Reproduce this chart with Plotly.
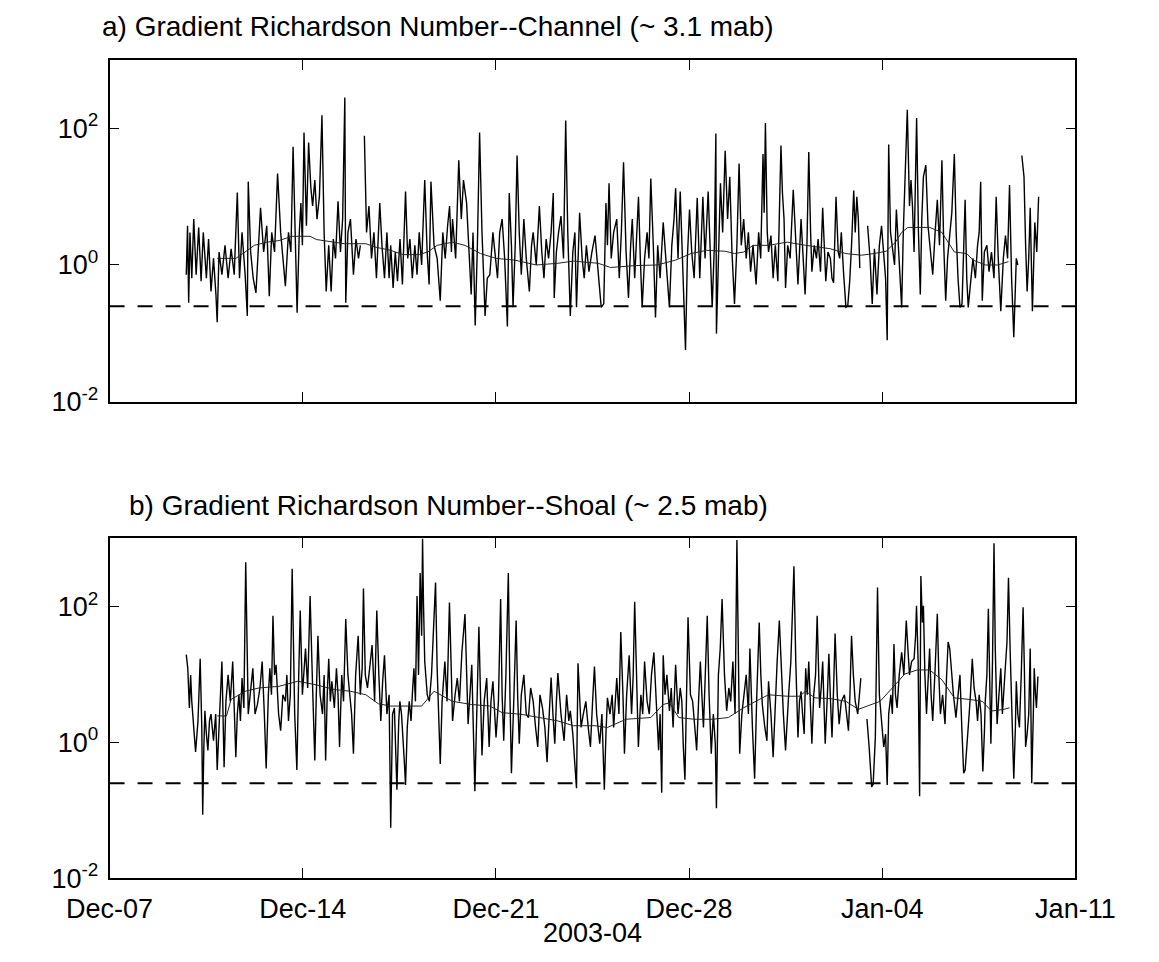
import pandas as pd
import plotly.graph_objects as go

# Gradient Richardson number, Dec 2003 - Jan 2004.
# Samples are (hours since 2003-12-07 00:00, Ri); None marks a data gap.
START = pd.Timestamp("2003-12-07")
END = pd.Timestamp("2004-01-11")

channel_ri = [
    (66.7, 0.72), (67.8, 3.75), (68.8, 0.28), (69.9, 3.0), (71.5, 0.64), (73.2, 4.7), (75.3, 0.72),
    (77.5, 3.55), (79.6, 0.58), (81.5, 3.0), (84.2, 0.64), (86.1, 2.4), (88.2, 0.41), (90.4, 1.25),
    (92.5, 0.37), (93.6, 0.145), (95.2, 1.55), (97.7, 0.72), (100.4, 1.94), (103.1, 0.64), (105.7, 1.73),
    (108.4, 0.72), (111.1, 11.5), (113.0, 0.64), (115.2, 3.0), (117.9, 0.72), (119.8, 0.18), (120.6, 16.6),
    (122.7, 1.55), (124.9, 0.64), (127.3, 0.39), (129.2, 1.94), (131.3, 6.9), (134.0, 1.55), (136.7, 3.75),
    (138.9, 0.35), (141.0, 3.0), (143.5, 1.55), (146.1, 21.9), (148.8, 3.0), (150.7, 1.25), (152.9, 0.49),
    (155.6, 3.0), (157.7, 1.55), (159.6, 54), (161.5, 3.0), (163.1, 0.20), (165.0, 3.0), (166.4, 8.1),
    (167.7, 1.94), (169.1, 87), (171.2, 3.75), (173.1, 62), (175.0, 14), (176.6, 7.3), (178.5, 17.5),
    (180.4, 4.7), (182.5, 10), (184.7, 155), (186.6, 3.0), (188.4, 0.41), (190.6, 1.94), (192.7, 0.41),
    (194.6, 2.4), (196.5, 1.25), (198.7, 8.6), (200.8, 1.55), (202.7, 4.7), (204.6, 282), (205.4, 0.28),
    (207.3, 3.0), (209.5, 4.7), (212.1, 0.72), (214.3, 2.4), (216.5, 1.25), (218.1, 1.94), (219.8, None),
    (221.6, 78), (223.5, 3.0), (225.6, 7.3), (227.8, 1.25), (229.9, 3.0), (232.1, 0.64), (235.0, 8.1),
    (236.9, 1.94), (239.1, 0.64), (241.2, 3.0), (243.1, 0.64), (244.5, 1.94), (246.6, 0.46), (248.5, 1.55),
    (250.4, 0.58), (252.6, 2.4), (254.7, 0.52), (257.4, 11.9), (259.3, 1.25), (261.2, 2.4), (263.3, 0.64),
    (265.5, 1.94), (267.4, 0.72), (269.3, 3.0), (271.4, 1.0), (274.1, 17.5), (276.2, 1.55), (277.9, 0.52),
    (279.5, 16.6), (282.2, 1.94), (284.9, 1.25), (287.6, 0.30), (289.8, 3.0), (291.9, 1.25), (294.0, 3.75),
    (295.7, 7.3), (297.3, 1.55),
    (298.3, 4.7), (301.0, 1.25), (303.7, 34), (305.9, 4.7), (307.8, 17.5), (310.5, 8.1), (312.3, 1.94),
    (314.5, 0.37), (316.1, 3.0), (318.0, 0.13), (319.9, 1.94), (321.8, 87), (323.9, 3.0), (326.6, 0.18),
    (328.5, 0.64), (330.7, 0.72), (333.4, 3.0), (335.5, 1.25), (337.4, 0.64), (339.3, 3.0), (341.4, 4.7),
    (343.6, 1.25), (346.0, 0.126), (347.6, 11.3), (349.5, 1.94), (350.9, 0.24), (352.8, 1.94), (354.4, 40),
    (356.3, 3.0), (358.1, 0.72), (360.3, 4.7), (362.4, 1.25), (365.1, 0.41), (367.0, 1.94), (368.4, 3.0),
    (371.1, 1.0), (373.8, 7.3), (375.9, 1.55), (377.8, 0.64), (379.7, 2.4), (381.8, 1.25), (384.0, 3.0),
    (385.9, 11.3), (386.7, 0.33), (388.6, 1.55), (390.5, 3.0), (392.6, 5.2), (394.8, 1.25), (396.7, 130),
    (398.5, 3.0), (400.7, 0.18), (402.9, 1.55), (404.7, 3.0), (406.1, 0.24), (408.8, 5.8), (411.0, 1.25),
    (412.8, 0.64), (414.7, 1.94), (416.9, 0.8), (419.5, 1.55), (422.2, 2.7), (424.9, 0.8), (427.6, 0.24),
    (429.8, 0.27), (431.7, 8.1), (433.0, 1.94), (434.4, 15.7), (436.3, 1.25), (438.4, 3.0), (441.1, 4.7),
    (443.3, 0.64), (445.1, 3.0), (447.0, 32), (449.2, 1.55), (451.3, 0.33), (453.2, 1.94), (454.6, 4.7),
    (456.7, 0.64), (458.6, 3.0), (460.0, 10), (461.6, 1.25), (463.2, 0.24), (465.3, 1.25), (467.5, 3.0),
    (469.1, 1.25), (470.7, 18.5), (472.9, 1.94), (474.8, 0.17), (476.7, 1.94), (478.8, 0.64), (481.5, 4.2),
    (483.7, 1.25), (485.5, 0.64), (486.9, 0.24), (489.0, 1.94), (490.9, 4.7), (492.3, 13.3), (494.4, 1.25),
    (496.3, 11.9), (498.2, 1.25), (499.3, 0.64), (500.9, 0.057), (502.5, 1.25), (504.4, 6.5), (506.3, 1.55),
    (508.4, 0.64), (511.1, 9.6), (513.3, 0.64), (516.0, 10), (517.9, 1.25), (520.6, 11.9), (522.5, 1.55),
    (524.1, 0.24), (526.0, 1.94), (527.3, 84), (527.8, 0.099), (529.5, 1.55), (531.3, 15.7), (533.2, 3.0),
    (535.4, 47), (537.5, 4.7), (539.4, 19.5), (541.3, 1.55), (543.5, 0.27), (545.6, 1.94), (547.5, 30.6),
    (549.4, 1.94), (551.5, 4.7), (553.7, 1.25), (555.6, 3.0), (557.5, 0.8), (559.6, 1.94), (562.3, 0.52),
    (564.5, 3.0), (566.3, 1.25), (568.3, 42), (569.3, 5.8), (570.4, 120), (572.0, 3.0),
    (573.1, 1.55), (575.2, 2.7), (577.1, 0.64), (579.0, 1.94), (581.2, 0.58), (583.9, 56), (585.2, 11.3),
    (586.6, 4.7), (587.9, 0.46), (589.8, 1.94), (591.9, 1.25), (594.6, 12.6), (596.8, 1.94), (598.7, 0.52),
    (601.4, 4.7), (603.3, 1.25), (604.9, 0.37), (606.5, 1.94), (608.1, 45), (609.7, 3.0), (610.8, 0.8),
    (612.9, 1.94), (614.8, 1.25), (616.2, 2.4), (618.3, 0.8), (620.2, 6.9), (621.6, 1.55), (622.9, 0.58),
    (624.8, 1.55), (626.9, 1.25), (628.3, 0.64), (629.7, 0.55), (631.8, 10), (633.7, 1.55), (635.0, 1.25),
    (636.4, 3.0), (638.3, 0.8), (640.4, 0.24), (642.0, 0.25), (643.7, 0.58), (645.3, 1.94), (647.2, 12.3),
    (648.5, 3.0), (649.9, 10), (651.2, 4.7), (652.5, 0.9), (656.0, None), (659.3, 3.75), (661.4, 1.25),
    (663.3, 0.27), (665.2, 1.73), (667.4, 0.37), (669.5, 1.94), (671.4, 3.75), (673.3, 1.25), (674.9, 0.64),
    (676.3, 0.079), (677.6, 58), (679.2, 3.0), (680.8, 1.94), (682.7, 1.0), (684.3, 6.5), (686.2, 1.94),
    (687.6, 0.64), (688.9, 0.24), (690.3, 3.0), (691.6, 12.6), (693.8, 187), (695.7, 7.3), (697.0, 17.5),
    (698.3, 7.3), (699.7, 1.55), (701.9, 142), (703.5, 3.0), (705.1, 0.37), (706.4, 4.7), (707.8, 19.5),
    (709.9, 29), (711.8, 3.75), (713.7, 1.94), (715.9, 0.72), (718.0, 3.0), (719.9, 9.0), (721.8, 1.94),
    (723.9, 34), (725.5, 1.94), (727.2, 0.30), (728.8, 1.25), (730.7, 3.0), (732.5, 5.8), (734.7, 42),
    (736.3, 3.0), (737.9, 0.64), (739.6, 0.24), (741.4, 0.27), (742.8, 1.94), (744.1, 9.0), (745.5, 0.64),
    (746.8, 0.24), (748.7, 0.52), (750.9, 1.25), (753.0, 0.64), (754.9, 1.94), (756.3, 3.0), (757.6, 16.6),
    (759.0, 0.30), (760.8, 1.55), (763.0, 1.94), (764.9, 0.8), (767.0, 1.55), (769.2, 0.64), (771.1, 10),
    (772.9, 1.25), (775.1, 0.21), (777.3, 1.25), (779.2, 2.7), (781.0, 1.25), (782.7, 14.8), (784.5, 0.64),
    (786.4, 0.088), (788.6, 1.25), (789.9, 1.0), (791.5, None), (793.4, 40), (795.3, 19.5), (796.7, 1.94),
    (798.0, 0.41), (799.4, 1.25), (800.7, 6.9), (802.6, 0.21), (803.7, 1.25), (804.7, 4.2), (806.4, 1.55),
    (808.0, 10),
]

channel_mean = [
    (93.6, 1.25), (109.8, 1.25), (117.9, 1.55), (125.9, 1.94), (136.7, 2.16), (147.5, 2.28), (158.3, 2.63),
    (174.4, 2.63), (179.8, 2.36), (190.6, 2.21), (204.1, 2.05), (222.9, 2.05), (231.0, 1.83), (244.5, 1.64),
    (255.2, 1.42), (268.7, 1.42), (276.8, 1.55), (284.9, 1.94), (298.3, 2.16), (309.1, 1.94), (322.6, 1.47),
    (336.1, 1.25), (352.2, 1.18), (371.1, 1.0), (389.9, 1.06), (403.4, 1.14), (424.9, 1.06), (435.7, 0.92),
    (457.3, 0.98), (476.1, 1.0), (492.3, 1.18), (505.7, 1.47), (519.2, 1.64), (535.4, 1.59), (543.5, 1.47),
    (551.5, 1.55), (559.6, 1.94), (573.1, 1.94), (589.3, 2.16), (605.4, 1.94), (626.9, 1.73), (640.4, 1.47),
    (653.9, 1.39), (664.7, 1.47), (675.4, 1.59), (683.5, 2.16), (688.9, 3.0), (694.3, 3.55), (713.2, 3.55),
    (723.9, 3.0), (729.3, 2.16), (734.7, 1.55), (745.5, 1.47), (750.9, 1.18), (761.6, 1.0), (772.4, 1.0),
    (781.8, 1.12),
]

shoal_ri = [
    (66.7, 19.5), (68.0, 12.3), (69.4, 3.2), (70.5, 9.8), (71.5, 4.0), (73.2, 1.65), (74.8, 0.72), (76.9, 2.06),
    (78.8, 17), (80.2, 1.65), (81.0, 0.086), (82.0, 0.85), (82.9, 2.9), (84.2, 1.32), (85.5, 0.76), (86.9, 2.06),
    (88.2, 2.6), (90.4, 1.05), (92.3, 2.6), (93.6, 0.39), (95.8, 2.6), (97.7, 15.4), (99.6, 0.43), (101.2, 4.0),
    (103.1, 9.8), (105.0, 4.0), (107.1, 15.4), (108.7, 3.2), (109.8, 0.6), (111.1, 2.6), (112.5, 5.0),
    (113.8, 2.06), (115.2, 8.8), (116.8, 3.2), (118.4, 447), (120.6, 2.6), (122.7, 6.3), (124.6, 12.3),
    (126.5, 2.6), (128.6, 3.6), (130.8, 6.3), (132.7, 15.4), (134.6, 2.6), (136.2, 0.41), (138.1, 5.0),
    (139.4, 12.3), (140.8, 5.0), (142.1, 73), (143.5, 9.8), (144.8, 13.8), (147.0, 2.6), (148.8, 1.48),
    (150.7, 5.0), (152.9, 4.0), (154.2, 9.8), (155.6, 2.06), (157.2, 5.0), (158.8, 357), (161.0, 2.6),
    (162.9, 0.39), (164.5, 9.8), (165.8, 87), (167.7, 5.0), (169.0, 12.3), (170.4, 24), (172.3, 6.3),
    (174.4, 142), (176.6, 6.3), (178.5, 0.54), (179.8, 5.0), (181.2, 37), (183.1, 5.0), (185.2, 2.6),
    (186.6, 9.8), (187.9, 0.54), (189.3, 5.0), (190.6, 17), (192.0, 4.0), (193.3, 7.9), (195.5, 3.2),
    (197.3, 12.3), (198.7, 5.0), (200.0, 0.85), (201.9, 9.8), (203.5, 4.0), (205.4, 65), (207.3, 9.8),
    (208.9, 5.0), (210.5, 2.6), (212.1, 0.68), (214.0, 9.8), (216.2, 37), (218.1, 5.0), (219.7, 12.3),
    (220.8, 183), (222.4, 9.8), (224.3, 6.3), (226.2, 12.3), (228.3, 27), (230.5, 4.0), (232.4, 87),
    (234.2, 9.8), (235.9, 2.06), (237.5, 7.9), (239.1, 19), (241.2, 2.6), (243.1, 5.0), (244.5, 0.055),
    (246.1, 2.6), (247.7, 3.2), (248.8, 0.95), (249.9, 0.2), (251.5, 2.06), (252.5, 4.0), (253.9, 2.6),
    (255.2, 1.32), (256.3, 0.54), (257.4, 0.235), (258.9, 1.65), (260.6, 4.0), (262.2, 2.06), (263.3, 5.0),
    (264.7, 12.3), (266.0, 4.0), (267.4, 142), (268.7, 9.8), (270.1, 310), (271.4, 37), (272.2, 1000),
    (273.0, 114), (274.1, 15.4), (276.3, 5.0), (278.1, 4.0), (280.0, 9.8), (282.2, 102), (283.5, 224),
    (284.9, 12.3), (286.2, 2.06), (287.6, 0.48), (289.2, 4.0), (291.6, 15.4), (293.5, 4.0), (295.6, 114),
    (297.3, 9.8),
    (298.3, 2.06), (300.5, 5.0), (302.4, 8.8), (304.3, 4.0), (306.4, 21), (309.1, 77), (311.8, 1.85),
    (313.4, 5.0), (315.0, 13.8), (317.7, 0.19), (319.4, 5.0), (321.2, 50), (322.6, 5.0), (323.9, 0.64),
    (325.8, 4.0), (328.0, 8.8), (330.1, 0.85), (331.7, 4.0), (333.4, 7.9), (336.1, 1.18), (338.2, 4.0),
    (340.1, 128), (341.4, 5.0), (342.8, 1.05), (344.7, 9.8), (346.8, 310), (348.2, 5.0), (349.5, 0.35),
    (351.7, 5.0), (353.6, 62), (354.9, 5.0), (356.3, 0.95), (358.1, 5.0), (360.3, 9.8), (362.4, 2.6),
    (364.3, 2.3), (366.2, 6.3), (368.4, 4.0), (370.5, 1.65), (372.4, 0.85), (374.3, 5.0), (376.5, 3.2),
    (378.6, 1.65), (380.5, 0.51), (382.4, 2.6), (384.0, 9.0), (385.6, 2.6), (387.2, 0.95), (388.6, 4.0),
    (389.9, 10.4), (392.6, 2.6), (395.3, 1.05), (397.5, 5.0), (399.4, 2.06), (400.7, 2.9), (402.9, 1.32),
    (404.7, 0.46), (406.1, 0.21), (407.4, 14.5), (408.8, 4.0), (410.1, 1.65), (412.0, 2.6), (414.2, 4.0),
    (416.3, 1.65), (418.2, 0.85), (420.1, 4.0), (421.7, 13), (423.6, 2.6), (426.3, 0.95), (428.2, 2.6),
    (430.3, 0.2), (431.7, 1.32), (433.0, 4.5), (435.2, 2.6), (437.1, 5.0), (438.4, 1.65), (439.8, 4.0),
    (441.1, 8.8), (443.0, 2.6), (444.6, 42), (446.5, 5.0), (447.8, 0.68), (449.7, 5.0), (451.9, 19),
    (454.0, 2.6), (455.4, 9.8), (456.7, 117), (458.6, 4.0), (459.9, 0.85), (462.1, 5.0), (463.7, 2.6),
    (465.3, 15.4), (467.5, 4.0), (469.4, 2.6), (471.3, 9.8), (473.4, 21), (475.6, 2.6), (477.5, 0.76),
    (478.8, 2.6), (480.2, 0.18), (481.5, 19), (483.1, 5.0), (484.7, 9.8), (486.9, 2.9), (488.5, 6.3),
    (490.1, 1.65), (492.3, 13.8), (494.4, 2.6), (496.3, 6.3), (497.7, 4.0), (499.0, 0.85), (500.4, 0.28),
    (501.7, 4.0), (503.1, 69), (505.2, 5.0), (507.1, 4.0), (509.0, 1.65), (510.6, 0.76), (512.5, 5.0),
    (513.8, 15.4), (515.4, 4.0), (516.5, 1.65), (518.1, 9.8), (519.8, 73), (521.4, 5.0), (523.3, 0.68),
    (525.1, 2.6), (526.8, 0.95), (527.8, 0.107), (529.5, 9.8), (531.1, 24), (532.7, 128), (534.8, 9.8),
    (536.7, 2.9), (538.6, 6.3), (540.2, 4.0), (542.1, 15.4), (544.0, 2.6), (545.6, 950), (547.0, 5.0),
    (548.0, 0.68), (549.9, 2.6), (551.5, 5.0), (553.7, 9.8), (555.6, 2.6), (556.9, 24), (559.1, 1.65),
    (561.0, 0.29), (562.9, 5.0), (565.0, 58), (566.4, 9.8), (567.7, 3.6), (569.9, 1.65), (571.7, 1.05),
    (573.1, 7.9), (575.2, 2.6), (577.1, 0.6), (579.0, 4.0), (580.6, 15.4), (582.5, 62), (584.4, 9.8),
    (586.0, 2.6), (587.9, 0.76), (589.3, 2.6), (590.6, 5.0), (592.5, 15.4), (593.8, 58), (595.2, 389),
    (596.8, 15.4), (598.7, 1.18), (600.0, 4.0), (601.4, 5.6), (602.7, 2.6), (604.1, 1.32), (605.4, 12.3),
    (606.8, 5.0), (608.1, 15.4), (609.5, 2.6), (610.8, 0.95), (612.4, 5.0), (614.0, 9.8), (615.4, 73),
    (616.7, 9.8), (617.5, 3.2), (618.9, 6.3), (620.2, 15.4), (621.6, 2.6), (622.4, 0.95), (624.3, 5.0),
    (625.6, 20), (627.0, 4.0), (628.3, 1.18), (629.7, 6.3), (631.0, 40), (632.9, 5.0), (634.5, 1.85),
    (636.4, 4.0), (639.1, 5.0), (641.0, 2.6), (642.6, 1.48), (643.9, 5.0), (645.3, 37), (646.9, 9.8),
    (648.5, 4.0), (650.7, 2.6), (653.4, 8.8), (656.0, None), (658.7, 2.2), (659.8, 1.32), (660.6, 0.85),
    (662.8, 0.22), (664.1, 0.24), (666.0, 1.18), (667.9, 190), (669.5, 5.0), (671.4, 2.06), (673.3, 0.85),
    (674.9, 1.32), (676.3, 0.235), (677.6, 2.6), (679.5, 5.0), (680.8, 2.6), (682.2, 28), (683.5, 5.0),
    (684.9, 3.2), (686.8, 9.8), (688.9, 21), (690.8, 9.8), (692.9, 62), (694.3, 24), (695.7, 9.8),
    (697.5, 15.4), (699.7, 17), (701.0, 37), (701.8, 102), (703.2, 15.4), (704.5, 0.16), (705.6, 280),
    (706.9, 58), (707.8, 102), (709.1, 9.8), (710.5, 2.6), (711.8, 9.8), (713.2, 24), (714.5, 5.0),
    (715.9, 2.06), (718.0, 12.3), (719.9, 78), (721.2, 9.8), (722.6, 2.6), (724.5, 5.0), (726.6, 1.85),
    (728.0, 9.8), (729.3, 30), (730.7, 24), (732.0, 12.3), (733.9, 5.0), (736.1, 2.3), (737.9, 5.0),
    (739.6, 9.8), (741.2, 1.65), (742.8, 0.35), (744.1, 0.39), (745.5, 0.76), (747.6, 2.6), (748.7, 5.0),
    (750.3, 17), (751.9, 6.3), (753.6, 4.0), (754.9, 2.06), (756.3, 5.0), (757.9, 2.6), (759.5, 0.37),
    (760.8, 1.32), (761.6, 4.0), (763.0, 9.8), (764.3, 92), (765.7, 5.0), (766.5, 0.95), (767.9, 15.4),
    (769.2, 850), (770.3, 24), (771.9, 1.85), (773.5, 5.0), (775.1, 12.3), (776.5, 2.6), (777.8, 5.0),
    (779.2, 13.8), (780.5, 30), (781.8, 265), (783.2, 24), (784.5, 5.0), (786.4, 0.29), (787.8, 1.65),
    (788.6, 7.9), (789.9, 2.6), (791.3, 1.65), (792.9, 9.8), (794.5, 97), (795.6, 12.3), (796.7, 0.85),
    (798.0, 1.32), (799.4, 2.6), (800.7, 24), (802.0, 0.25), (803.4, 2.6), (804.2, 12.3), (805.3, 5.0),
    (806.1, 3.2), (807.4, 9.3),
]

shoal_mean = [
    (93.6, 2.44), (101.7, 2.44), (105.7, 4.26), (117.9, 5.63), (130.0, 6.3), (147.5, 6.66), (163.7, 7.9),
    (179.8, 7.0), (196.0, 5.95), (209.5, 5.63), (222.9, 5.0), (233.7, 3.69), (244.5, 3.41), (271.4, 3.41),
    (282.2, 5.63), (298.3, 4.0), (314.5, 3.6), (330.7, 3.41), (341.4, 2.73), (357.6, 2.58), (373.8, 2.31),
    (389.9, 2.06), (403.4, 1.75), (422.2, 1.75), (433.0, 1.65), (449.2, 2.18), (470.7, 2.31), (481.5, 3.6),
    (486.9, 3.8), (495.0, 2.31), (508.4, 2.18), (524.6, 2.18), (538.1, 2.31), (551.5, 3.22), (565.0, 4.26),
    (573.1, 5.0), (589.3, 4.76), (600.0, 4.76), (605.4, 5.63), (613.5, 4.5), (626.9, 4.4), (640.4, 4.0),
    (651.2, 3.05), (659.3, 3.41), (670.1, 4.0), (680.8, 6.3), (691.6, 10.1), (702.4, 11.6), (713.2, 11.6),
    (723.9, 8.3), (734.7, 4.5), (748.2, 4.26), (759.0, 4.0), (767.0, 2.88), (777.8, 3.05), (782.7, 3.22),
]

RI_CRITICAL = 0.25
week_ticks = pd.date_range(START, END, freq="7D")
week_labels = [d.strftime("%b-%d") for d in week_ticks]
y_ticks = [1e-2, 1e0, 1e2]
y_labels = ["10<sup>-2</sup>", "10<sup>0</sup>", "10<sup>2</sup>"]

panel_titles = [
    "a) Gradient Richardson Number--Channel (~ 3.1 mab)",
    "b) Gradient Richardson Number--Shoal (~ 2.5 mab)",
]


def split(pairs):
    times = [START + pd.Timedelta(hours=h) for h, _ in pairs]
    vals = [v for _, v in pairs]
    return times, vals


FONT = "Liberation Sans"
W, H = 1159, 962
x_dom = [70.7 / W, 1112 / W]
y_doms = [[1 - 408 / H, 1 - 61 / H], [1 - 892 / H, 1 - 547 / H]]

fig = go.Figure()
series = [(channel_ri, channel_mean), (shoal_ri, shoal_mean)]
for i, (raw, mean) in enumerate(series):
    xa = "x" if i == 0 else "x2"
    ya = "y" if i == 0 else "y2"
    t, v = split(raw)
    fig.add_trace(go.Scatter(x=t, y=v, mode="lines", xaxis=xa, yaxis=ya,
                             line=dict(color="black", width=1.4), connectgaps=False,
                             showlegend=False, hoverinfo="skip"))
    tm, vm = split(mean)
    fig.add_trace(go.Scatter(x=tm, y=vm, mode="lines", xaxis=xa, yaxis=ya,
                             line=dict(color="#222222", width=1.0),
                             showlegend=False, hoverinfo="skip"))
    fig.add_trace(go.Scatter(x=[START, END], y=[RI_CRITICAL, RI_CRITICAL], mode="lines",
                             xaxis=xa, yaxis=ya,
                             line=dict(color="black", width=2, dash="15px,13px"),
                             showlegend=False, hoverinfo="skip"))

axis_style = dict(showline=True, linecolor="black", linewidth=1.8, mirror="ticks",
                  ticks="inside", ticklen=10, tickwidth=1.3, tickcolor="black",
                  showgrid=False, zeroline=False)

for i in range(2):
    sfx = "" if i == 0 else "2"
    fig.update_layout(**{
        f"xaxis{sfx}": dict(axis_style, domain=x_dom, anchor=f"y{sfx}", type="date",
                            range=[START, END], tickmode="array", tickvals=week_ticks,
                            ticktext=week_labels, showticklabels=(i == 1),
                            ticklabelstandoff=6),
        f"yaxis{sfx}": dict(axis_style, domain=y_doms[i], anchor=f"x{sfx}", type="log",
                            range=[-2, 3], tickmode="array", tickvals=y_ticks,
                            ticktext=y_labels, ticklabelstandoff=4),
    })

annotations = [
    dict(text=panel_titles[0], x=60 / W, y=1 - 27 / H),
    dict(text=panel_titles[1], x=89 / W, y=1 - 513 / H),
]
for a in annotations:
    a.update(xref="paper", yref="paper", xanchor="left", yanchor="middle",
             showarrow=False, font=dict(family=FONT, size=28, color="black"))
fig.update_layout(annotations=annotations + [
    dict(text="2003-04", x=(x_dom[0] + x_dom[1]) / 2, y=1 - 948 / H, xref="paper", yref="paper",
         xanchor="center", yanchor="middle", showarrow=False,
         font=dict(family=FONT, size=27, color="black")),
])

fig.update_layout(width=W, height=H, margin=dict(l=0, r=0, t=0, b=0),
                  paper_bgcolor="white", plot_bgcolor="white",
                  font=dict(family=FONT, size=27, color="black"))

fig.write_html("out.html")
